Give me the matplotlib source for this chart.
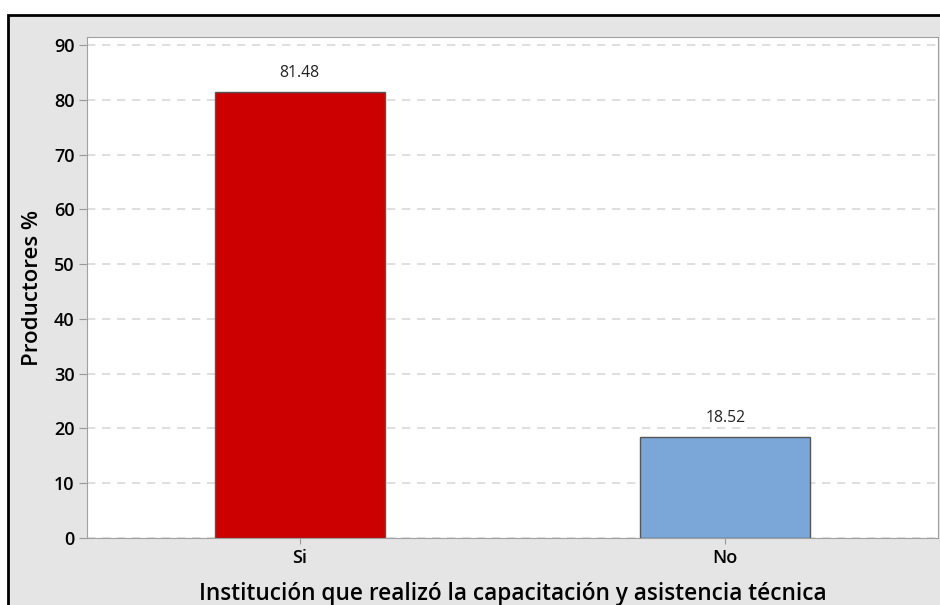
import matplotlib.pyplot as plt
from matplotlib.patches import Rectangle

categorias = ['Si', 'No']
porcentajes = [81.48, 18.52]
colores = ['#cc0000', '#7ba6d8']
yticks = [0, 10, 20, 30, 40, 50, 60, 70, 80, 90]

plt.rcParams['font.family'] = ['Open Sans', 'DejaVu Sans']

fig = plt.figure(figsize=(9.4, 6.05), dpi=100)
fig.patch.set_facecolor('white')

# marco gris con borde negro (recortado a la derecha y abajo)
marco = Rectangle((8 / 940, -0.05), 1.0, 1 - 15 / 605 + 0.05,
                  transform=fig.transFigure, facecolor='#e5e5e5',
                  edgecolor='black', linewidth=2, zorder=-10)
fig.add_artist(marco)

ax = fig.add_axes([87 / 940, 1 - 538 / 605, (938 - 87) / 940, (538 - 37) / 605])
ax.set_zorder(1)
ax.set_facecolor('white')

x = range(len(categorias))
bars = ax.bar(x, porcentajes, width=0.4, color=colores, edgecolor='#555555',
              linewidth=1, zorder=3)
for b, v in zip(bars, porcentajes):
    ax.text(b.get_x() + b.get_width() / 2, v + 2.0, f'{v:.2f}',
            ha='center', va='bottom', fontsize=11.3, color='#222222')

ax.set_xlim(-0.5, 1.5)
ax.set_ylim(0, 91.5)
ax.set_yticks(yticks)
ax.set_xticks(list(x))
ax.set_xticklabels(categorias)
ax.tick_params(axis='y', labelsize=13, colors='#999999', labelcolor='black',
               length=6, pad=3)
ax.tick_params(axis='x', labelsize=13, colors='#999999', labelcolor='black',
               length=4, pad=4)
for lab in ax.get_xticklabels() + ax.get_yticklabels():
    lab.set_fontweight('semibold')

ax.grid(axis='y', linestyle=(0, (5, 4)), color='#d9d9d9', linewidth=1.2, zorder=0)
for s in ax.spines.values():
    s.set_color('#a0a0a0')

ax.set_ylabel('Productores %', fontsize=16, fontweight='semibold', labelpad=8)
ax.set_xlabel('Institución que realizó la capacitación y asistencia técnica',
              fontsize=16.3, fontweight='semibold', labelpad=11)

fig.savefig('out.png', dpi=100)
